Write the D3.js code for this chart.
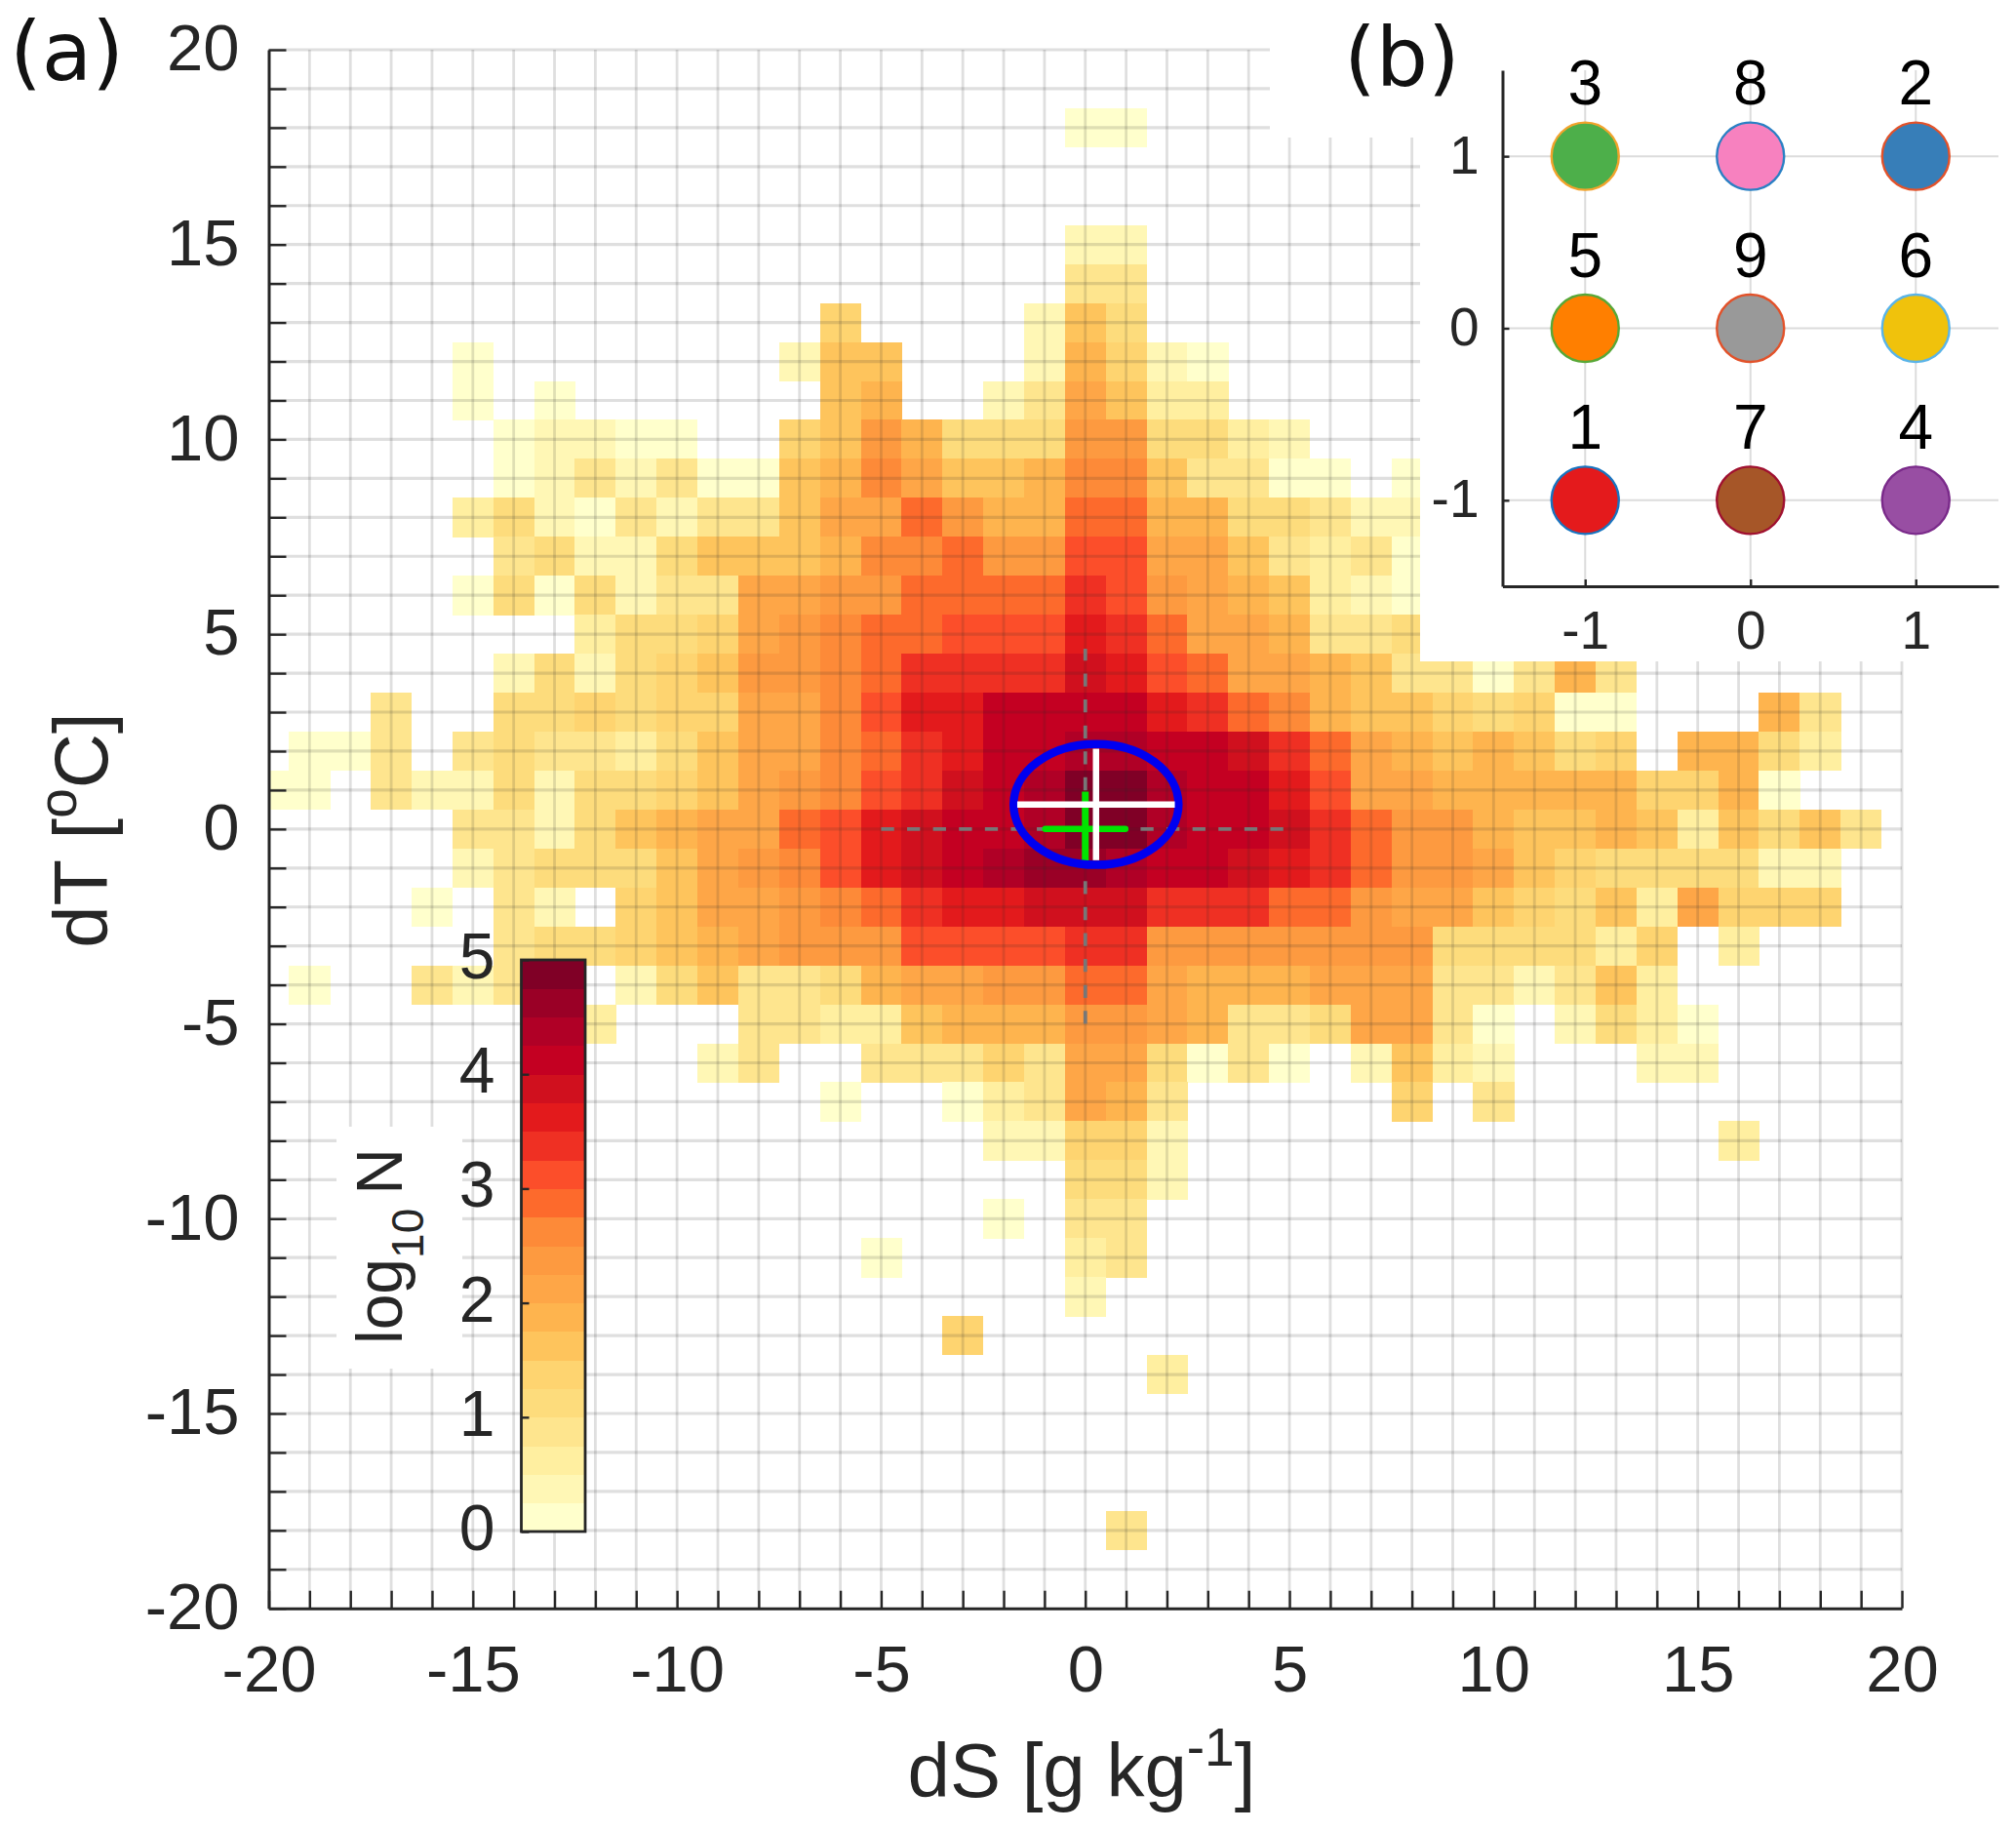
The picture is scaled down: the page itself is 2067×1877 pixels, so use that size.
<!DOCTYPE html>
<html><head><meta charset="utf-8">
<style>
html,body{margin:0;padding:0;background:#fff}
svg{display:block}
text{font-family:"Liberation Sans",Arial,sans-serif}
</style>
<script src="https://cdn.jsdelivr.net/npm/d3@7"></script>
</head><body>
<script>
const _ = null;
// colour-bar classes, lowest to highest (each 0.25 in log10 N)
const palette = ["#ffffcc","#fff7b5","#ffefa0","#fee58e","#fddc7c","#fed470","#fec45c","#feb44e","#fea647","#fd9a40","#fd8a38","#fd6a2c","#fc4e2a","#ef3023","#e31a1c","#d0101e","#c40022","#b00026","#9a0026","#800026"];
const tickDS = d3.range(-20,21);
const tickDT = d3.range(-20,21);
const tickCbar = [0,1,2,3,4,5];
const rowDT = [18,15,14,13,12,11,10,9,8,7,6,5,4,3,2,1,0,-1,-2,-3,-4,-5,-6,-7,-8,-9,-10,-11,-12,-13,-14,-18];
const rowFirstDS = [0,0,0,-6,-15,-15,-14,-14,-15,-14,-15,-12,-14,-17,-19,-20,-15,-15,-16,-14,-19,-12,-9,-6,-2,0,-2,-5,0,-3,2,1];
const rowLevels = [
[0,0],
[1,1],
[3,3],
[5,_,_,_,_,1,6,4],
[0,_,_,_,_,_,_,_,1,6,6,_,_,_,1,7,5,1,0],
[0,_,0,_,_,_,_,_,_,6,7,_,_,1,3,8,6,2,2],
[0,1,1,0,0,_,_,5,6,9,7,4,4,4,9,9,4,4,2,1],
[0,1,3,1,3,0,0,6,7,10,8,6,6,7,10,10,6,3,3,0,0,_,0],
[2,4,1,0,3,1,3,3,6,8,8,11,9,7,7,11,11,7,7,4,4,3,1,1],
[3,4,1,1,4,6,6,6,7,10,10,11,9,9,12,12,8,8,6,3,2,3,0],
[0,4,0,4,1,3,3,8,8,9,9,11,11,11,11,13,12,9,8,7,6,2,1,0],
[2,4,4,5,8,9,10,11,11,12,12,12,14,13,11,8,8,7,3,3,4],
[1,4,1,4,5,6,9,9,10,11,13,13,13,13,15,14,12,11,8,8,7,6,3,3,0,3,7,3],
[3,_,_,4,4,5,4,5,5,8,8,10,12,14,14,16,16,16,16,14,13,11,10,7,6,6,5,4,5,0,0,_,_,_,7,3],
[0,0,3,_,3,4,3,3,2,4,6,8,8,10,11,13,14,16,16,17,17,16,16,15,13,11,8,7,6,7,6,4,5,_,7,7,4,2],
[0,0,_,3,1,1,4,1,4,4,5,6,8,9,10,12,13,15,16,17,19,19,17,16,16,14,12,8,8,7,7,7,7,7,5,5,7,0],
[3,3,1,4,6,7,8,8,11,12,14,15,16,16,17,19,19,17,16,16,15,13,11,9,9,7,6,6,7,6,2,6,4,6,3],
[1,3,4,4,4,6,8,9,10,12,14,15,16,17,18,18,17,16,16,15,14,13,11,9,9,8,6,5,4,4,4,4,1,1],
[0,_,3,1,_,5,6,8,8,9,10,11,13,14,14,15,15,15,13,13,13,11,11,9,8,8,6,5,4,6,2,8,5,5,5],
[3,4,4,5,6,7,8,9,9,9,12,12,12,12,13,13,9,9,9,9,9,9,9,4,4,4,4,2,5,_,2],
[0,_,_,3,1,3,3,_,1,4,6,3,3,4,7,8,8,9,9,11,11,8,7,7,7,8,8,8,3,3,1,3,6,2],
[2,_,_,_,3,3,2,2,6,7,7,7,9,9,8,7,3,3,4,8,8,3,0,_,1,4,2,0],
[1,3,_,_,3,3,3,5,3,8,8,4,0,3,0,_,1,6,2,1,_,_,_,1,1],
[0,_,_,0,2,3,8,7,3,_,_,_,_,_,5,_,3],
[1,1,5,5,1,_,_,_,_,_,_,_,_,_,_,_,_,_,2],
[4,4,1],
[0,_,3,3],
[0,_,_,_,_,2,3],
[1],
[5],
[2],
[3]
];
// summary marks (dS, dT)
const meanBlue = {ds:0.263, dt:0.63, sdS:1.93, sdT:1.43};
const medianGreen = {ds:0, dt:0, halfS:0.98, up:0.96, down:0.81};
const guideExtent = [-5,5];
const guideTop = 4.63;
// panel (b)
const insetCols = [-1,0,1,-1,0,1,-1,0,1];
const insetRows = [1,1,1,0,0,0,-1,-1,-1];
const insetNames = ["3","8","2","5","9","6","1","7","4"];
const insetFills = ["#4daf4a","#f781bf","#377eb8","#ff7f00","#999999","#f0c20c","#e41a1c","#a65628","#984ea3"];
const insetEdges = ["#f2a32c","#2a80c4","#e2522a","#58a838","#e2522a","#5ab4e8","#1874c0","#a01030","#7a2a8a"];
const insetTicks = [-1,0,1];

const W=2067,H=1877;
const svg=d3.select("body").append("svg").attr("width",W).attr("height",H).attr("viewBox",`0 0 ${W} ${H}`);
const x=d3.scaleLinear().domain([-20,20]).range([275.5,1950]);
const y=d3.scaleLinear().domain([-20,20]).range([1648.7,51]);
const ink="#262626";

svg.append("defs").append("clipPath").attr("id","plot").append("rect")
  .attr("x",x(-20)).attr("y",y(20)).attr("width",x(20)-x(-20)).attr("height",y(-20)-y(20));

// heat map cells
const cells=[];
rowDT.forEach((dt,i)=>rowLevels[i].forEach((lv,j)=>{ if(lv!==null) cells.push({ds:rowFirstDS[i]+j,dt,lv}); }));
svg.append("g").attr("clip-path","url(#plot)").attr("shape-rendering","crispEdges").selectAll("rect").data(cells).join("rect")
  .attr("x",d=>x(d.ds-0.5)).attr("y",d=>y(d.dt+0.5))
  .attr("width",d=>x(d.ds+0.5)-x(d.ds-0.5)+0.4).attr("height",d=>y(d.dt-0.5)-y(d.dt+0.5)+0.4)
  .attr("fill",d=>palette[d.lv]);

// grid
const grid=svg.append("g").attr("stroke","rgba(38,38,38,0.15)").attr("fill","none");
grid.selectAll(".v").data(tickDS.slice(1)).join("line").attr("x1",d=>x(d)).attr("x2",d=>x(d)).attr("y1",y(20)).attr("y2",y(-20)).attr("stroke-width",2.8);
grid.selectAll(".h").data(tickDT.slice(1)).join("line").attr("x1",x(-20)).attr("x2",x(20)).attr("y1",d=>y(d)).attr("y2",d=>y(d)).attr("stroke-width",3.2);

// dashed guides
const guide=svg.append("g").attr("stroke","#777").attr("stroke-width",3.8).attr("stroke-dasharray","13.3 13.3").attr("fill","none");
guide.append("line").attr("x1",x(guideExtent[0])).attr("x2",x(guideExtent[1])).attr("y1",y(0)).attr("y2",y(0));
guide.append("line").attr("x1",x(0)).attr("x2",x(0)).attr("y1",y(guideExtent[0])).attr("y2",y(guideTop));

// green cross
const green=svg.append("g").attr("stroke","#00e400").attr("fill","none");
green.append("line").attr("x1",x(medianGreen.ds-medianGreen.halfS)).attr("x2",x(medianGreen.ds+medianGreen.halfS)).attr("y1",y(medianGreen.dt)).attr("y2",y(medianGreen.dt)).attr("stroke-width",6.5).attr("stroke-linecap","round");
green.append("line").attr("x1",x(medianGreen.ds)).attr("x2",x(medianGreen.ds)).attr("y1",y(medianGreen.up)).attr("y2",y(-medianGreen.down)).attr("stroke-width",7);

// blue ellipse + white cross
svg.append("ellipse").attr("cx",x(meanBlue.ds)).attr("cy",y(meanBlue.dt))
  .attr("rx",x(2.02)-x(0)).attr("ry",y(0)-y(1.55)).attr("fill","none").attr("stroke","#0000f0").attr("stroke-width",8.5);
const white=svg.append("g").attr("stroke","#fff").attr("stroke-width",6.5);
white.append("line").attr("x1",x(meanBlue.ds-meanBlue.sdS)).attr("x2",x(meanBlue.ds+meanBlue.sdS)).attr("y1",y(meanBlue.dt)).attr("y2",y(meanBlue.dt));
white.append("line").attr("x1",x(meanBlue.ds)).attr("x2",x(meanBlue.ds)).attr("y1",y(meanBlue.dt+meanBlue.sdT)).attr("y2",y(meanBlue.dt-meanBlue.sdT));

// main axes
function styleAxis(g,fs){
  g.selectAll("path").attr("stroke",ink).attr("stroke-width",3);
  g.selectAll("line").attr("stroke",ink).attr("stroke-width",2.4);
  g.selectAll("text").attr("fill",ink).attr("font-size",fs).attr("font-family",'"Liberation Sans"');
}
const fmt=d=>d%5===0?String(d):"";
const gx=svg.append("g").attr("transform",`translate(0,${y(-20)})`).call(d3.axisBottom(x).tickValues(tickDS).tickSize(-18).tickSizeOuter(0).tickFormat(fmt));
styleAxis(gx,67); gx.selectAll("text").attr("y",85).attr("dy",0);
const gy=svg.append("g").attr("transform",`translate(${x(-20)},0)`).call(d3.axisLeft(y).tickValues(tickDT).tickSize(-18).tickSizeOuter(0).tickFormat(fmt));
styleAxis(gy,67); gy.selectAll("text").attr("x",-30).attr("dy","0.31em");

// axis titles
const xt=svg.append("text").attr("x",1109).attr("y",1842).attr("text-anchor","middle").attr("font-size",78).attr("fill",ink);
xt.append("tspan").text("dS [g kg");
xt.append("tspan").attr("dy",-32).attr("font-size",55).text("-1");
xt.append("tspan").attr("dy",32).text("]");
const yt=svg.append("text").attr("transform",`translate(110,${851}) rotate(-90)`).attr("text-anchor","middle").attr("font-size",78).attr("fill",ink);
yt.append("tspan").text("dT [");
yt.append("tspan").attr("dy",-32).attr("font-size",55).text("o");
yt.append("tspan").attr("dy",32).text("C]");

// white backing of the label of the colour bar
svg.append("rect").attr("x",345).attr("y",1155).attr("width",129).attr("height",248).attr("fill","#fff");

// colour bar
const cbY=d3.scaleLinear().domain([0,5]).range([1570,984]);
const cbX=[534.5,600];
svg.append("g").attr("shape-rendering","crispEdges").selectAll("rect").data(palette).join("rect")
  .attr("x",cbX[0]).attr("width",cbX[1]-cbX[0])
  .attr("y",(d,i)=>cbY((i+1)*0.25)).attr("height",(d,i)=>cbY(i*0.25)-cbY((i+1)*0.25)+0.5)
  .attr("fill",d=>d);
const gc=svg.append("g").attr("transform",`translate(${cbX[0]},0)`).call(d3.axisLeft(cbY).tickValues(tickCbar).tickSize(-8).tickSizeOuter(0).tickFormat(String));
styleAxis(gc,66); gc.select("path").remove(); gc.selectAll("text").attr("x",-27).attr("dy","0.28em");
svg.append("rect").attr("x",cbX[0]).attr("y",cbY(5)).attr("width",cbX[1]-cbX[0]).attr("height",cbY(0)-cbY(5)).attr("fill","none").attr("stroke",ink).attr("stroke-width",2.8);
const lt=svg.append("text").attr("transform","translate(412,1378) rotate(-90)").attr("font-size",66).attr("fill",ink);
lt.append("tspan").text("log");
lt.append("tspan").attr("dy",22).attr("font-size",46).text("10");
lt.append("tspan").attr("dy",-22).attr("dx",14).text("N");

// panel (b)
svg.append("rect").attr("x",1302).attr("y",0).attr("width",W-1302).attr("height",141).attr("fill","#fff");
svg.append("rect").attr("x",1456).attr("y",0).attr("width",W-1456).attr("height",678).attr("fill","#fff");
const ix=d3.scaleLinear().domain([-1.5,1.5]).range([1540.5,2049]);
const iy=d3.scaleLinear().domain([-1.5,1.5]).range([601,72]);
const ig=svg.append("g").attr("stroke","#dcdcdc").attr("stroke-width",2);
ig.selectAll(".v").data(insetTicks).join("line").attr("x1",d=>ix(d)).attr("x2",d=>ix(d)).attr("y1",iy(-1.5)).attr("y2",iy(1.5));
ig.selectAll(".h").data(insetTicks).join("line").attr("y1",d=>iy(d)).attr("y2",d=>iy(d)).attr("x1",ix(-1.5)).attr("x2",ix(1.5));
const iax=svg.append("g").attr("transform",`translate(0,${iy(-1.5)})`).call(d3.axisBottom(ix).tickValues(insetTicks).tickSize(-7).tickSizeOuter(0).tickFormat(String));
styleAxis(iax,55); iax.selectAll("text").attr("y",64).attr("dy",0);
const iay=svg.append("g").attr("transform",`translate(${ix(-1.5)},0)`).call(d3.axisLeft(iy).tickValues(insetTicks).tickSize(-7).tickSizeOuter(0).tickFormat(String));
styleAxis(iay,55); iay.selectAll("text").attr("x",-24).attr("dy","0.31em");
svg.selectAll(".dot").data(insetNames).join("circle").attr("class","dot")
  .attr("cx",(d,i)=>ix(insetCols[i])).attr("cy",(d,i)=>iy(insetRows[i])).attr("r",34.5)
  .attr("fill",(d,i)=>insetFills[i]).attr("stroke",(d,i)=>insetEdges[i]).attr("stroke-width",2.4);
svg.selectAll(".dotl").data(insetNames).join("text").attr("class","dotl")
  .attr("x",(d,i)=>ix(insetCols[i])).attr("y",(d,i)=>iy(insetRows[i])-53)
  .attr("text-anchor","middle").attr("font-size",64).attr("fill","#000").text(d=>d);

// panel letters
const letter=(s,px,py)=>svg.append("text").attr("x",px).attr("y",py).attr("font-size",84).attr("fill","#111").style("font-family",'"DejaVu Sans"').text(s);
letter("(a)",10,82);
letter("(b)",1378,88);
</script>
</body></html>
